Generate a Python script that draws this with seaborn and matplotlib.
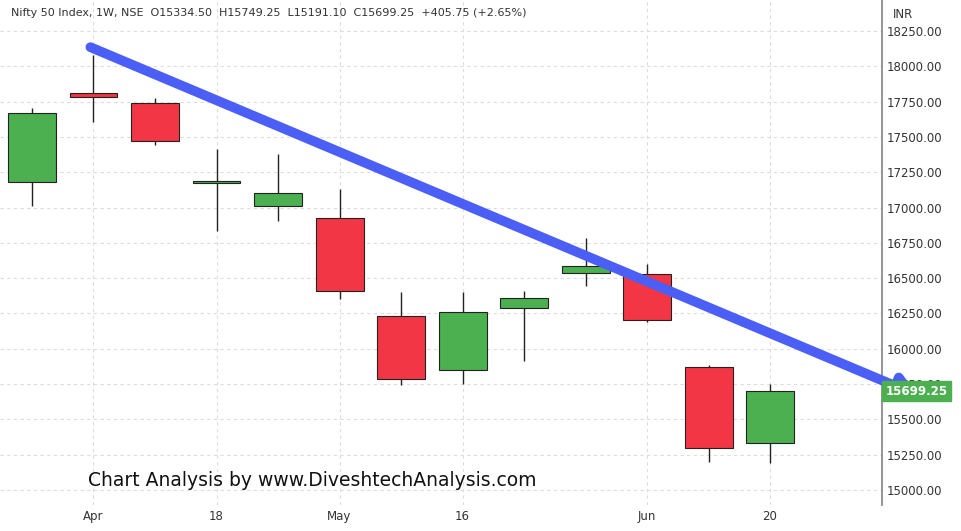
import numpy as np
import matplotlib
matplotlib.use("Agg")
import matplotlib.pyplot as plt
import seaborn as sns

# weekly candles, Nifty 50
opens  = [17181, 17810, 17740, 17175, 17011, 16926, 16232, 15850, 16289, 16536, 16529, 15871, 15334.50]
closes = [17669, 17780, 17471, 17185, 17103, 16409, 15786, 16260, 16359, 16586, 16204, 15297, 15699.25]
highs  = [17705, 18080, 17776, 17415, 17379, 17131, 16402, 16402, 16409, 16784, 16600, 15885, 15749.25]
lows   = [17011, 17605, 17443, 16834, 16905, 16352, 15743, 15750, 15913, 16444, 16190, 15198, 15191.10]
tick_pos = [1, 3, 5, 7, 10, 12]
tick_labels = ["Apr", "18", "May", "16", "Jun", "20"]
y_ticks = [15000, 15250, 15500, 15750, 16000, 16250, 16500, 16750, 17000, 17250, 17500, 17750, 18000, 18250]
trend = [(0.95, 18135), (14.4, 15670)]

sns.set_theme(style="white")
fig = plt.figure(figsize=(9.62, 5.31), dpi=100)
ax = fig.add_axes([0.0, 26/531, 882/962, 1 - 26/531])

green, red = "#4caf50", "#f23645"
x = np.arange(len(opens))
cols = [green if c >= o else red for o, c in zip(opens, closes)]
ax.vlines(x, lows, highs, color="#222222", lw=1, zorder=2)
bottoms = np.minimum(opens, closes)
heights = np.maximum(np.abs(np.array(closes) - np.array(opens)), 12)
ax.bar(x, heights, bottom=bottoms, width=0.78, color=cols, edgecolor="#222222", lw=0.8, zorder=3)

ax.annotate("", xy=trend[1], xytext=trend[0], annotation_clip=False,
            arrowprops=dict(arrowstyle="-|>,head_length=0.9,head_width=0.55", color="#4b5ef5", lw=7,
                            shrinkA=0, shrinkB=0), zorder=4)

ax.set_xlim(-0.52, 13.82)
ax.set_ylim(14894, 18469)
ax.yaxis.tick_right()
ax.set_yticks(y_ticks)
ax.set_yticklabels([f"{v:.2f}" for v in y_ticks], fontsize=8.5, color="#333333")
ax.set_xticks(tick_pos)
ax.set_xticklabels(tick_labels, fontsize=8.5, color="#333333")
ax.grid(True, color="#dddddd", ls=(0, (3, 3)), lw=0.8)
ax.tick_params(length=0)
for s in ["top", "left", "bottom"]:
    ax.spines[s].set_visible(False)
ax.spines["right"].set_color("#888888")

ax.text(0.012, 0.985, "Nifty 50 Index, 1W, NSE  O15334.50  H15749.25  L15191.10  C15699.25  +405.75 (+2.65%)",
        transform=ax.transAxes, fontsize=8, color="#333333", va="top")
fig.text(893/962, 1 - 14/531, "INR", fontsize=8.5, color="#333333", va="center")
ax.text(1.004, closes[-1], f"{closes[-1]:.2f}", transform=ax.get_yaxis_transform(), fontsize=8.5,
        color="white", fontweight="bold", va="center", zorder=10,
        bbox=dict(boxstyle="square,pad=0.3", fc=green, ec=green), clip_on=False)
ax.text(88/882, 15070, "Chart Analysis by www.DiveshtechAnalysis.com", transform=ax.get_yaxis_transform(),
        fontsize=13.5, color="#111111", va="center", ha="left", zorder=6)

fig.savefig("out.png", dpi=100)
